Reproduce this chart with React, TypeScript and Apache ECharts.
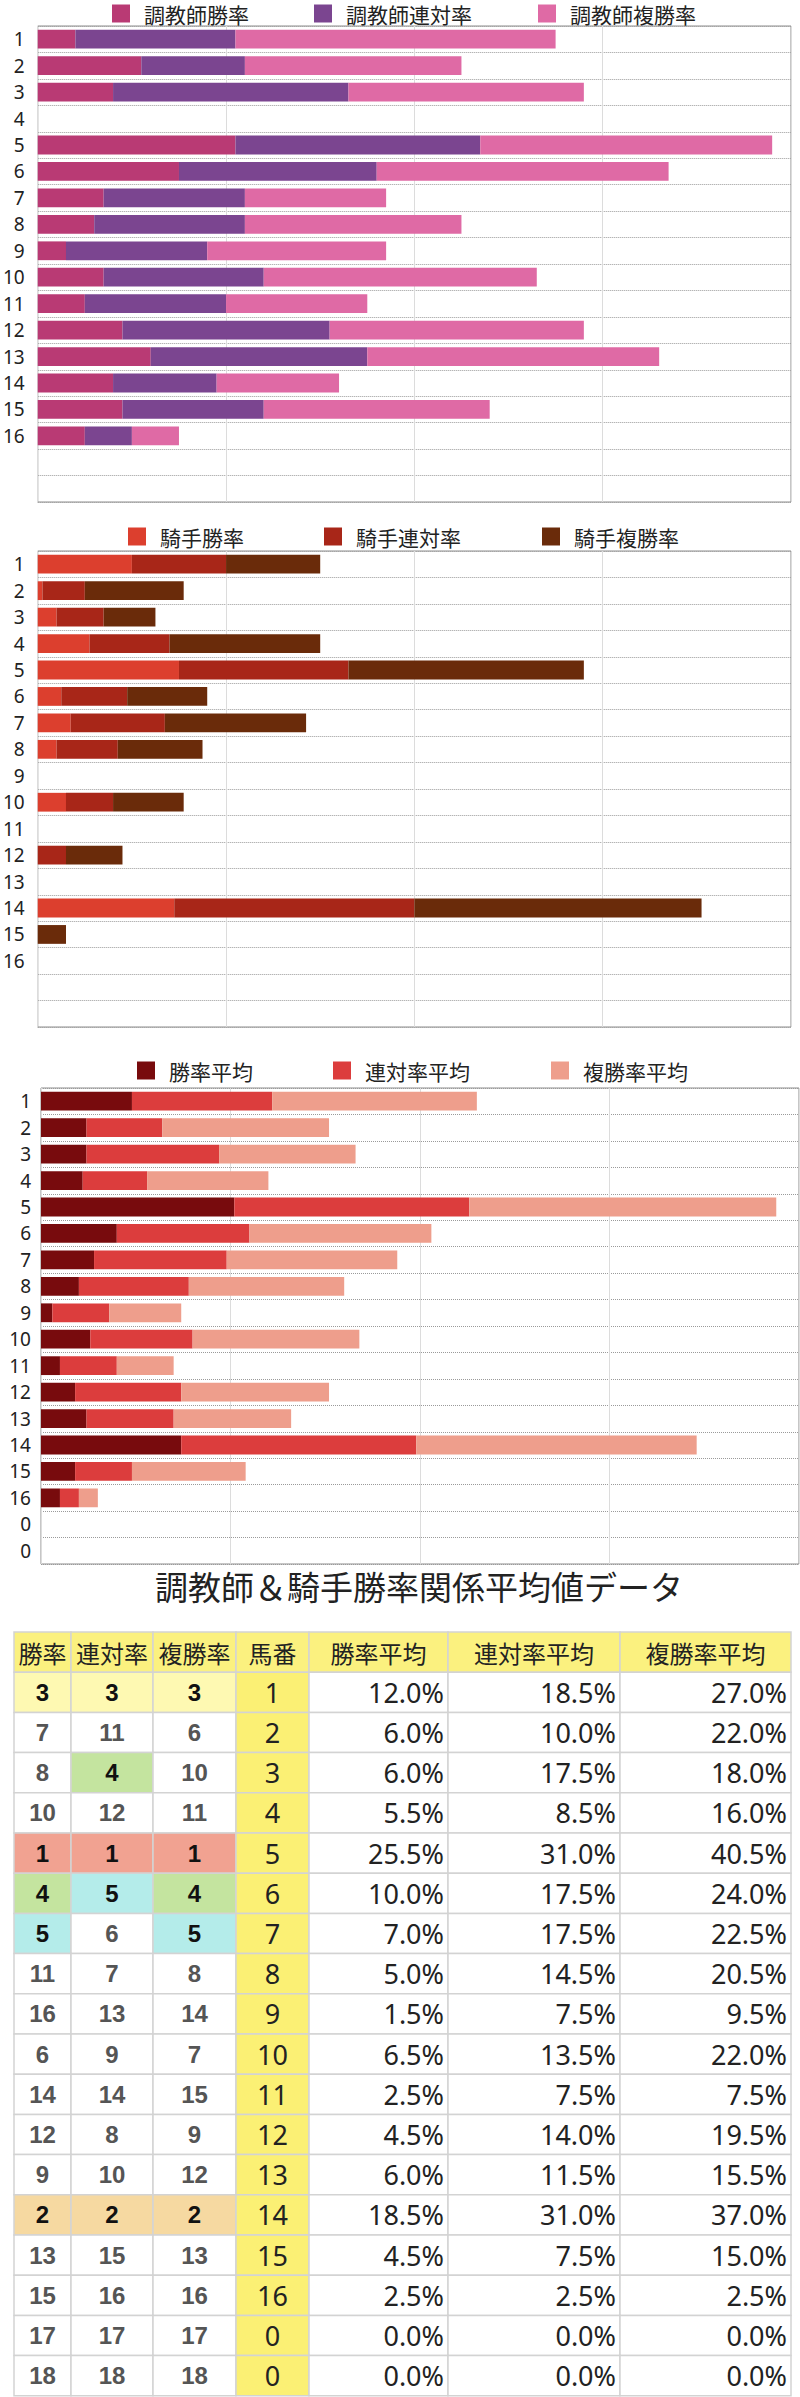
import React, { useEffect, useRef } from "react";
import * as echarts from "echarts";

// ---- data ----
const horseLabels12 = ["1","2","3","4","5","6","7","8","9","10","11","12","13","14","15","16","",""];
const horseLabels3 = ["1","2","3","4","5","6","7","8","9","10","11","12","13","14","15","16","0","0"];

const trainerWin = [4, 11, 8, 0, 21, 15, 7, 6, 3, 7, 5, 9, 12, 8, 9, 5, null, null];
const trainerTop2 = [17, 11, 25, 0, 26, 21, 15, 16, 15, 17, 15, 22, 23, 11, 15, 5, null, null];
const trainerTop3 = [34, 23, 25, 0, 31, 31, 15, 23, 19, 29, 15, 27, 31, 13, 24, 5, null, null];

const jockeyWin = [20, 1, 4, 11, 30, 5, 7, 4, 0, 6, 0, 0, 0, 29, 0, 0, null, null];
const jockeyTop2 = [20, 9, 10, 17, 36, 14, 20, 13, 0, 10, 0, 6, 0, 51, 0, 0, null, null];
const jockeyTop3 = [20, 21, 11, 32, 50, 17, 30, 18, 0, 15, 0, 12, 0, 61, 6, 0, null, null];

const avgWin = [12, 6, 6, 5.5, 25.5, 10, 7, 5, 1.5, 6.5, 2.5, 4.5, 6, 18.5, 4.5, 2.5, 0, 0];
const avgTop2 = [18.5, 10, 17.5, 8.5, 31, 17.5, 17.5, 14.5, 7.5, 13.5, 7.5, 14, 11.5, 31, 7.5, 2.5, 0, 0];
const avgTop3 = [27, 22, 18, 16, 40.5, 24, 22.5, 20.5, 9.5, 22, 7.5, 19.5, 15.5, 37, 15, 2.5, 0, 0];

const rankWin = [3, 7, 8, 10, 1, 4, 5, 11, 16, 6, 14, 12, 9, 2, 13, 15, 17, 18];
const rankTop2 = [3, 11, 4, 12, 1, 5, 6, 7, 13, 9, 14, 8, 10, 2, 15, 16, 17, 18];
const rankTop3 = [3, 6, 10, 11, 1, 4, 5, 8, 14, 7, 15, 9, 12, 2, 13, 16, 17, 18];
const horseNums = [1, 2, 3, 4, 5, 6, 7, 8, 9, 10, 11, 12, 13, 14, 15, 16, 0, 0];

const tableHeaders = ["勝率", "連対率", "複勝率", "馬番", "勝率平均", "連対率平均", "複勝率平均"];
const chartTitle = "調教師＆騎手勝率関係平均値データ";

const trainerNames = ["調教師勝率", "調教師連対率", "調教師複勝率"];
const jockeyNames = ["騎手勝率", "騎手連対率", "騎手複勝率"];
const avgNames = ["勝率平均", "連対率平均", "複勝率平均"];

// ---- styles ----
const CJK = "'Noto Sans CJK JP', 'Noto Sans', sans-serif";
const NUM = "'Noto Sans', 'DejaVu Sans', sans-serif";
const trainerColors = ["#B93A74", "#7B4590", "#DF6AA5"];
const jockeyColors = ["#DC3F2E", "#A82618", "#6A2B0A"];
const avgColors = ["#780B0D", "#DC3D3D", "#EE9E8C"];
const rankColors: Record<number, string> = {
  1: "#F1A291",
  2: "#F6D9A1",
  3: "#FEF9B2",
  4: "#C4E49F",
  5: "#B4ECEA",
};

export default function App() {
  const ref = useRef<HTMLDivElement>(null);

  useEffect(() => {
    document.body.style.margin = "0";
    const chart = echarts.init(ref.current!, null, { renderer: "svg" });

    const grids = [
      { left: 34, top: 26, width: 757, height: 476 },
      { left: 34, top: 551, width: 757, height: 476 },
      { left: 41, top: 1088, width: 758, height: 476 },
    ].map((g) => ({ ...g, show: true, borderColor: "#8c8c8c", borderWidth: 1, backgroundColor: "#fff" }));

    const maxes = [80, 160, 100];
    const intervals = [20, 40, 25];
    const xAxis = maxes.map((m, i) => ({
      type: "value",
      gridIndex: i,
      min: 0,
      max: m,
      interval: intervals[i],
      axisLabel: { show: false },
      axisLine: { show: false },
      axisTick: { show: false },
      splitLine: { show: true, lineStyle: { color: "#dcdcdc", width: 1 } },
    }));
    const yAxis = [horseLabels12, horseLabels12, horseLabels3].map((labels, i) => ({
      type: "category",
      gridIndex: i,
      inverse: true,
      data: labels,
      axisLine: { show: false },
      axisTick: { show: false },
      axisLabel: { fontSize: 19, color: "#222", fontFamily: NUM, margin: i === 2 ? 10 : 13 },
      splitLine: { show: true, lineStyle: { color: "#9a9a9a", type: "dotted", width: 1 } },
    }));

    const mkSeries = (names: string[], datas: any[][], colors: string[], idx: number) =>
      names.map((n, k) => ({
        name: n,
        type: "bar",
        stack: "s" + idx,
        xAxisIndex: idx,
        yAxisIndex: idx,
        barWidth: "71%",
        data: datas[k],
        itemStyle: { color: colors[k] },
        emphasis: { disabled: true },
      }));

    const series = [
      ...mkSeries(trainerNames, [trainerWin, trainerTop2, trainerTop3], trainerColors, 0),
      ...mkSeries(jockeyNames, [jockeyWin, jockeyTop2, jockeyTop3], jockeyColors, 1),
      ...mkSeries(avgNames, [avgWin, avgTop2, avgTop3], avgColors, 2),
    ];

    const legendDefs = [
      { names: trainerNames, lefts: [112, 314, 538], top: 3, colors: trainerColors },
      { names: jockeyNames, lefts: [128, 324, 542], top: 526, colors: jockeyColors },
      { names: avgNames, lefts: [137, 333, 551], top: 1060, colors: avgColors },
    ];
    const legend: any[] = [];
    legendDefs.forEach((d) => {
      d.names.forEach((n, k) => {
        legend.push({
          data: [{ name: n, icon: "rect", itemStyle: { color: d.colors[k] } }],
          left: d.lefts[k],
          top: d.top,
          padding: 0,
          itemWidth: 18,
          itemHeight: 18,
          selectedMode: false,
          textStyle: { fontSize: 21, lineHeight: 18, color: "#222", fontFamily: CJK, padding: [0, 0, 0, 9] },
        });
      });
    });

    // ---- table via graphic ----
    const cols = [14, 71, 153, 236, 309, 448, 620, 791];
    const tTop = 1632;
    const rh = 40.2;
    const graphic: any[] = [];
    graphic.push({
      type: "text",
      x: 419,
      y: 1586,
      style: {
        text: chartTitle,
        fill: "#222",
        fontSize: 33,
        fontFamily: CJK,
        align: "center",
        verticalAlign: "middle",
        textAlign: "center",
        textVerticalAlign: "middle",
      },
    });
    const cellRect = (c: number, r: number, fill: string) => ({
      type: "rect",
      shape: { x: cols[c], y: tTop + r * rh, width: cols[c + 1] - cols[c], height: rh },
      style: { fill, stroke: "#d3d3d3", lineWidth: 1.5 },
    });
    const cellText = (c: number, r: number, text: string, opts: any) => {
      const align = opts.align || "center";
      const x = align === "right" ? cols[c + 1] - 4 : (cols[c] + cols[c + 1]) / 2;
      return {
        type: "text",
        x,
        y: tTop + r * rh + rh / 2 + (opts.dy || 0),
        style: {
          text,
          fill: opts.color || "#222",
          fontSize: opts.fontSize || 24,
          fontWeight: opts.fontWeight || "normal",
          fontFamily: opts.fontFamily || NUM,
          align,
          verticalAlign: "middle",
          textAlign: align,
          textVerticalAlign: "middle",
        },
      };
    };
    // header
    tableHeaders.forEach((h, c) => {
      graphic.push(cellRect(c, 0, "#FBF17F"));
      graphic.push(cellText(c, 0, h, { fontSize: 24, fontFamily: CJK, color: "#222" }));
    });
    horseNums.forEach((hn, i) => {
      const r = i + 1;
      const ranks = [rankWin[i], rankTop2[i], rankTop3[i]];
      ranks.forEach((rk, c) => {
        const hl = rankColors[rk];
        graphic.push(cellRect(c, r, hl || "#ffffff"));
        graphic.push(
          cellText(c, r, String(rk), {
            fontSize: 24,
            fontWeight: "bold",
            fontFamily: "'Liberation Sans', Arial, sans-serif",
            color: hl ? "#111" : "#555",
          })
        );
      });
      graphic.push(cellRect(3, r, "#FBF074"));
      graphic.push(cellText(3, r, String(hn), { fontSize: 27, color: "#222" }));
      [avgWin[i], avgTop2[i], avgTop3[i]].forEach((v, k) => {
        graphic.push(cellRect(4 + k, r, "#ffffff"));
        graphic.push(cellText(4 + k, r, v.toFixed(1) + "%", { fontSize: 27, color: "#222", align: "right" }));
      });
    });

    chart.setOption({
      animation: false,
      textStyle: { fontFamily: CJK },
      grid: grids,
      xAxis,
      yAxis,
      legend,
      series,
      graphic,
    });
    return () => chart.dispose();
  }, []);

  return <div ref={ref} style={{ width: 800, height: 2397 }} />;
}
